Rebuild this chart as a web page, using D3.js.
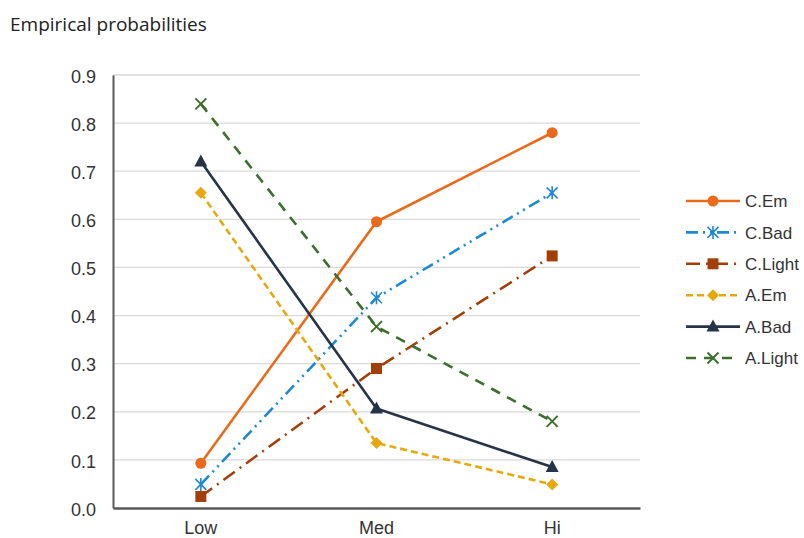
<!DOCTYPE html>
<html><head><meta charset="utf-8">
<script src="https://cdn.jsdelivr.net/npm/d3@7"></script>
<style>body{margin:0;background:#fff}svg{display:block}</style>
</head><body>
<svg id="c" width="804" height="538"></svg>
<script>
const categories = ["Low", "Med", "Hi"];
const seriesNames = ["C.Em", "C.Bad", "C.Light", "A.Em", "A.Bad", "A.Light"];
const cEm = [0.093, 0.595, 0.78];
const cBad = [0.049, 0.437, 0.655];
const cLight = [0.024, 0.29, 0.524];
const aEm = [0.655, 0.135, 0.049];
const aBad = [0.72, 0.207, 0.085];
const aLight = [0.84, 0.377, 0.18];
const yTicks = [0, 0.1, 0.2, 0.3, 0.4, 0.5, 0.6, 0.7, 0.8, 0.9];

const seriesValues = [cEm, cBad, cLight, aEm, aBad, aLight];
const styles = [
  {color:"#EB6A1A", dash:null, marker:"circle"},
  {color:"#1F88D2", dash:"12,5,2,5,2,5", marker:"star"},
  {color:"#A23F08", dash:"14,6,2,6", marker:"square"},
  {color:"#E6A80C", dash:"7,4", marker:"diamond"},
  {color:"#253446", dash:null, marker:"triangle"},
  {color:"#3C6E2E", dash:"10,8", marker:"x"}
];

const svg = d3.select("#c");
const m = {left:113, right:640, top:75, bottom:508};
const x = d3.scaleBand().domain(categories).range([m.left, m.right]);
const y = d3.scaleLinear().domain([0, 0.9]).range([m.bottom, m.top]);

svg.append("text").attr("x", 10).attr("y", 31).attr("font-family", "Open Sans, Noto Sans, sans-serif")
  .attr("font-size", 19).attr("fill", "#222").text("Empirical probabilities");

// gridlines
svg.append("g").selectAll("line").data(yTicks.filter(d => d > 0)).join("line")
  .attr("x1", m.left).attr("x2", m.right).attr("y1", d => y(d)).attr("y2", d => y(d))
  .attr("stroke", "#d9d9d9").attr("stroke-width", 1.3);

// y axis
const yAxis = svg.append("g").attr("transform", `translate(${m.left},0)`)
  .call(d3.axisLeft(y).tickValues(yTicks).tickFormat(d3.format(".1f")).tickSize(0).tickPadding(17));
yAxis.select(".domain").attr("stroke", "#595959").attr("stroke-width", 2);
yAxis.selectAll("text").attr("font-family", "Liberation Sans, Arial, sans-serif").attr("font-size", 18).attr("fill", "#333").attr("dy", "0.4em");

// x axis
const xAxis = svg.append("g").attr("transform", `translate(0,${m.bottom})`)
  .call(d3.axisBottom(x).tickSize(0).tickPadding(13));
xAxis.select(".domain").attr("stroke", "#595959").attr("stroke-width", 2.5);
xAxis.selectAll("text").attr("font-family", "Liberation Sans, Arial, sans-serif").attr("font-size", 18).attr("fill", "#333");

const cx = c => x(c) + x.bandwidth() / 2;

function drawMarker(g, type, px, py, color) {
  const s = 5.5;
  if (type === "circle") g.append("circle").attr("cx", px).attr("cy", py).attr("r", 5.5).attr("fill", color);
  else if (type === "square") g.append("rect").attr("x", px - 5.5).attr("y", py - 5.5).attr("width", 11).attr("height", 11).attr("fill", color);
  else if (type === "diamond") g.append("path").attr("d", `M${px},${py-6}L${px+6},${py}L${px},${py+6}L${px-6},${py}Z`).attr("fill", color);
  else if (type === "triangle") g.append("path").attr("d", `M${px},${py-7}L${px+6.5},${py+5}L${px-6.5},${py+5}Z`).attr("fill", color);
  else if (type === "x") g.append("path").attr("d", `M${px-s},${py-s}L${px+s},${py+s}M${px-s},${py+s}L${px+s},${py-s}`).attr("stroke", color).attr("stroke-width", 2);
  else if (type === "star") g.append("path").attr("d", `M${px-s},${py-s}L${px+s},${py+s}M${px-s},${py+s}L${px+s},${py-s}M${px},${py-s-1}L${px},${py+s+1}`).attr("stroke", color).attr("stroke-width", 1.6);
}

const line = d3.line().x((d, i) => cx(categories[i])).y(d => y(d));
const plot = svg.append("g");
seriesValues.forEach((vals, k) => {
  const st = styles[k];
  plot.append("path").datum(vals).attr("d", line).attr("fill", "none")
    .attr("stroke", st.color).attr("stroke-width", 2.6).attr("stroke-dasharray", st.dash)
    .attr("stroke-linejoin", "round");
  vals.forEach((v, i) => drawMarker(plot, st.marker, cx(categories[i]), y(v), st.color));
});

// legend
const leg = svg.append("g");
seriesNames.forEach((name, k) => {
  const st = styles[k];
  const ly = 201 + k * 31.4;
  leg.append("line").attr("x1", 686).attr("x2", 740).attr("y1", ly).attr("y2", ly)
    .attr("stroke", st.color).attr("stroke-width", 2.6).attr("stroke-dasharray", st.dash);
  drawMarker(leg, st.marker, 713, ly, st.color);
  leg.append("text").attr("x", 745).attr("y", ly).attr("dy", "0.36em")
    .attr("font-family", "Liberation Sans, Arial, sans-serif").attr("font-size", 17).attr("fill", "#333").text(name);
});
</script>
</body></html>
